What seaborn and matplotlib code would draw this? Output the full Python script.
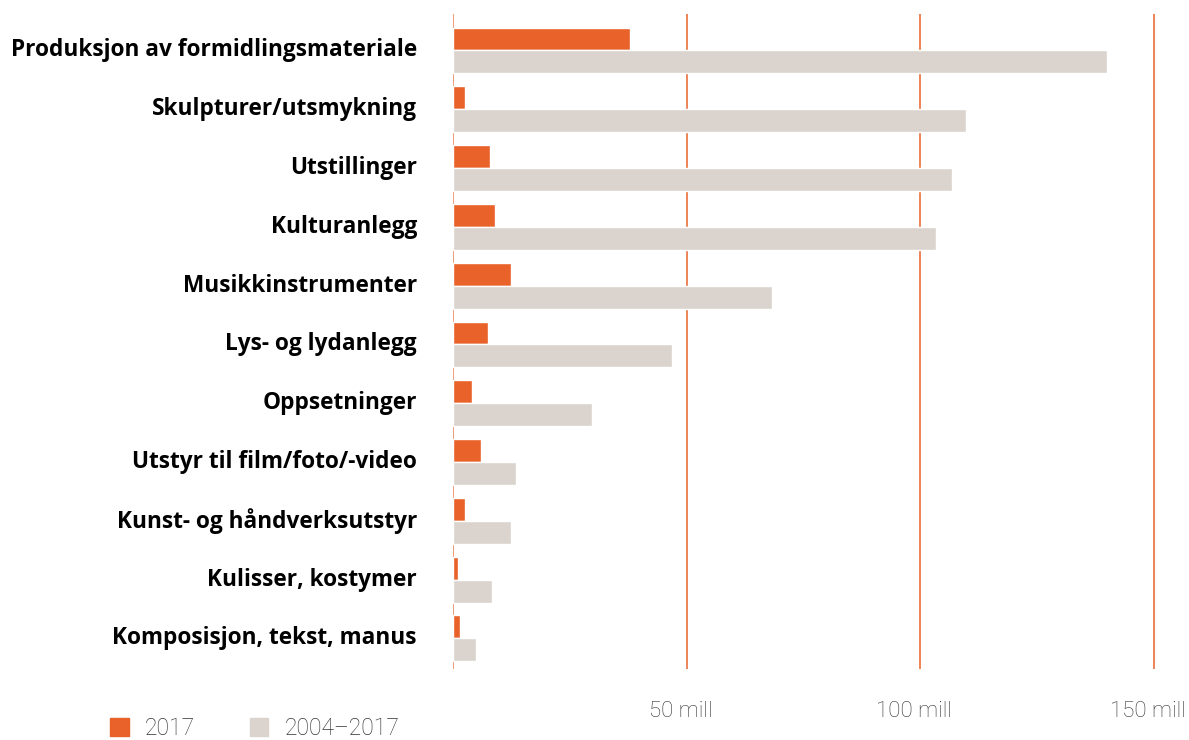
import matplotlib.pyplot as plt
from matplotlib.patches import Patch
from matplotlib.transforms import ScaledTranslation
import pandas as pd
import seaborn as sns

categories = ['Produksjon av formidlingsmateriale', 'Skulpturer/utsmykning',
              'Utstillinger', 'Kulturanlegg', 'Musikkinstrumenter',
              'Lys- og lydanlegg', 'Oppsetninger', 'Utstyr til film/foto/-video',
              'Kunst- og håndverksutstyr', 'Kulisser, kostymer',
              'Komposisjon, tekst, manus']
series = ['2017', '2004–2017']
vals_2017 = [37.9, 2.6, 7.9, 9.0, 12.4, 7.5, 4.1, 6.0, 2.6, 1.1, 1.5]
vals_total = [140.1, 109.8, 106.8, 103.5, 68.2, 46.9, 29.7, 13.5, 12.4, 8.3, 4.9]
tick_vals = [0, 50, 100, 150]
tick_labels = ['', '50 mill', '100 mill', '150 mill']

orange = '#E8622A'
grey = '#DBD4CE'

df = pd.DataFrame({
    'kategori': categories * 2,
    'serie': [series[0]] * len(categories) + [series[1]] * len(categories),
    'verdi': vals_2017 + vals_total,
})

sns.set_style('white')
plt.rcParams['font.family'] = ['Open Sans', 'DejaVu Sans']

fig = plt.figure(figsize=(11.89, 7.4), dpi=100)
ax = fig.add_axes([453 / 1189, 1 - 669 / 740, 710 / 1189, 655 / 740])

sns.barplot(data=df, y='kategori', x='verdi', hue='serie', orient='h',
            palette=[orange, grey], width=0.78, gap=0, ax=ax, legend=False,
            saturation=1, zorder=3)

ax.set_xlim(0, 152)
ax.set_ylim(10.52, -0.62)
ax.set_xlabel('')
ax.set_ylabel('')

# vertical gridlines
for v in tick_vals:
    ax.axvline(v, color='#EE8C62' if v == 0 else '#E8703A', lw=1.2,
               zorder=1)

for s in ax.spines.values():
    s.set_visible(False)

ax.set_xticks(tick_vals)
ax.set_xticklabels(tick_labels, fontsize=16, color='#333333',
                   family=['Roboto', 'DejaVu Sans'], fontweight='light')
ax.tick_params(axis='x', length=0, pad=23)
ax.tick_params(axis='y', length=0, pad=26)

# nudge x labels a bit left, y labels a bit up
shift_x = ScaledTranslation(-6 / 100, 0, fig.dpi_scale_trans)
for lab in ax.get_xticklabels():
    lab.set_transform(lab.get_transform() + shift_x)
shift_y = ScaledTranslation(0, 3 / 100, fig.dpi_scale_trans)
for lab in ax.get_yticklabels():
    lab.set_fontsize(16.3)
    lab.set_fontweight('bold')
    lab.set_color('black')
    lab.set_transform(lab.get_transform() + shift_y)

handles = [Patch(color=orange, label=series[0]),
           Patch(color=grey, label=series[1])]
fig.legend(handles=handles, loc='lower left', bbox_to_anchor=(0.0755, -0.028),
           ncol=2, frameon=False, handlelength=0.8,
           handleheight=0.8, handletextpad=0.7, columnspacing=2.4,
           labelcolor='#333333',
           prop={'family': ['Roboto', 'DejaVu Sans'], 'weight': 'light',
                 'size': 16.5})

fig.savefig('out.png', dpi=100)
